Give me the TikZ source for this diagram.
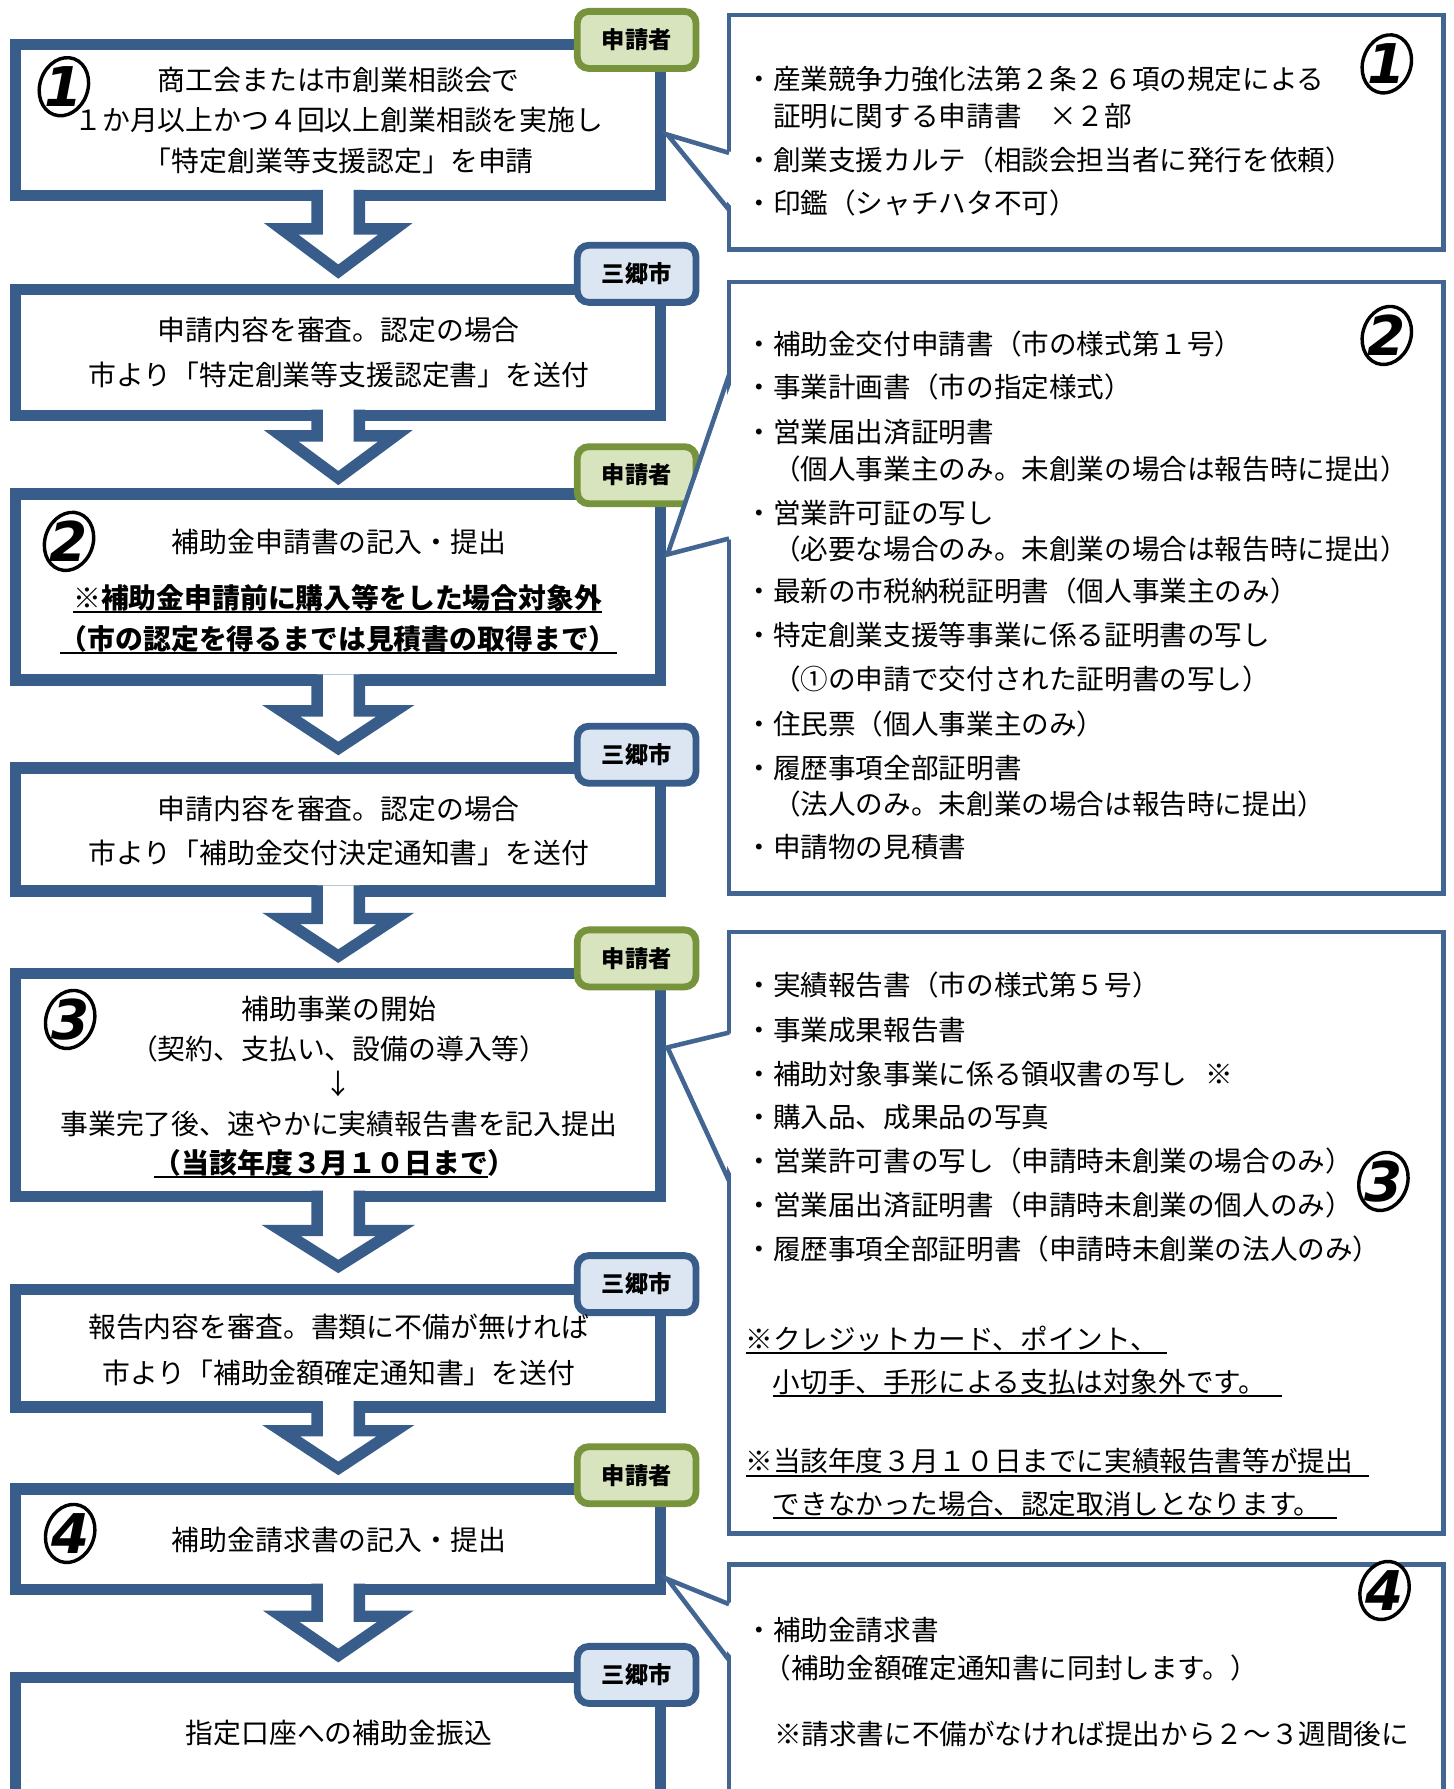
\documentclass[tikz,border=0pt]{standalone}
\usepackage{fontspec}
\setmainfont{Noto Sans CJK JP}
\newfontfamily\numfont{DejaVu Sans}
\usetikzlibrary{shapes.geometric,fit}
\definecolor{bbord}{RGB}{56,93,138}
\definecolor{rbord}{RGB}{66,101,146}
\definecolor{gfill}{RGB}{215,228,189}
\definecolor{gbord}{RGB}{119,147,60}
\definecolor{bfill}{RGB}{220,230,242}
\newcommand\ulx[1]{\setbox0\hbox{#1}\rlap{\rule[-0.17em]{\wd0}{0.9pt}}\box0}
\newcommand\blkarrow[3]{%
  \fill[white] ([xshift=-9.125pt]#1.south) ++(0,-5) -- ++(0,#2) -- ++(-31.5,0) -- ++(50,#3) -- ++(50,-#3) -- ++(-31.5,0) -- ++(0,-#2) -- cycle;
  \draw[arrline] ([xshift=-9.125pt]#1.south) ++(0,-5) -- ++(0,#2) -- ++(-31.5,0) -- ++(50,#3) -- ++(50,-#3) -- ++(-31.5,0) -- ++(0,-#2);
}
\tikzset{
  mbox/.style={draw=bbord, line width=5pt, fill=white, inner sep=0pt, outer sep=0pt},
  arrline/.style={draw=bbord, line width=5pt, line join=miter},
  rbox/.style={draw=rbord, line width=2pt, fill=white, inner sep=0pt, outer sep=0pt},
  rline/.style={draw=rbord, line width=2pt, line join=miter},
  tagg/.style={draw=gbord, fill=gfill, line width=3pt, rounded corners=5pt, inner sep=0pt, outer sep=0pt,
    minimum width=52pt, minimum height=25pt, text height=8.9pt, text depth=1.2pt,
    font=\fontsize{10.2}{12}\selectfont\bfseries},
  tagb/.style={tagg, draw=bbord, fill=bfill},
  ltxt/.style={inner sep=0pt, text height=10.7pt, text depth=1.5pt, font=\fontsize{12.2}{14}\selectfont},
  rtxt/.style={inner sep=0pt, text height=10.6pt, text depth=1.5pt, anchor=west, font=\fontsize{12.1}{14}\selectfont},
  ringn/.style={draw=black, line width=1.5pt, ellipse, fill=white, minimum width=21pt, minimum height=26pt, inner sep=0pt},
  digit/.style={font=\numfont\fontsize{24}{24}\selectfont\bfseries\itshape, inner sep=0pt},
}
\begin{document}
\begin{tikzpicture}[x=0.5pt,y=-0.5pt]
\useasboundingbox (0,0) rectangle (1274,1568);
\fill[white] (0,0) rectangle (1274,1568);

% main boxes
\node[mbox, fit={(13.5,39) (579,171.5)}] (A) {};
\node[mbox, fit={(13.5,253.5) (579,364)}] (B) {};
\node[mbox, fit={(13.5,433) (579,596)}] (C) {};
\node[mbox, fit={(13.5,673) (579,781)}] (D) {};
\node[mbox, fit={(13.5,853) (579,1048.5)}] (E) {};
\node[mbox, fit={(13.5,1130) (579,1233)}] (F) {};
\node[mbox, fit={(13.5,1305) (579,1393)}] (G) {};
\node[mbox, fit={(13.5,1470) (579,1600)}] (H) {};

% block arrows
\blkarrow{A}{34.1}{37.4}
\blkarrow{B}{23}{37}
\blkarrow{C}{32}{33}
\blkarrow{D}{29}{33}
\blkarrow{E}{35}{31.5}
\blkarrow{F}{26}{33}
\blkarrow{G}{28.6}{34.4}

% tags
\node[tagg] (tA) at (558,35) {申請者};
\node[tagb] (tB) at (558,240) {三郷市};
\node[tagg] (tC) at (558,416.5) {申請者};
\node[tagb] (tD) at (558,661.5) {三郷市};
\node[tagg] (tE) at (558,840) {申請者};
\node[tagb] (tF) at (558,1125.5) {三郷市};
\node[tagg] (tG) at (558,1293) {申請者};
\node[tagb] (tH) at (558,1468) {三郷市};

% callout boxes
\node[rbox, fit={(639,13) (1265,218.5)}] (R1) {};
\node[rbox, fit={(639,247) (1265,783)}] (R2) {};
\node[rbox, fit={(639,817) (1265,1344)}] (R3) {};
\node[rbox, fit={(639,1371) (1265,1600)}] (R4) {};

\coordinate (R1p) at (639,134); \coordinate (R1q) at (639,184); \coordinate (R1t) at (585,118);
\coordinate (R2p) at (639,328.5); \coordinate (R2q) at (639,472); \coordinate (R2t) at (585,486);
\coordinate (R3p) at (639,905); \coordinate (R3q) at (639,1035); \coordinate (R3t) at (585,918);
\coordinate (R4p) at (639,1406); \coordinate (R4q) at (639,1455); \coordinate (R4t) at (585,1384);
\foreach \r in {R1,R2,R3,R4}{
  \fill[white] ([xshift=2.5pt]\r p) -- (\r t) -- ([xshift=2.5pt]\r q) -- cycle;
  \draw[rline] (\r p) -- (\r t) -- (\r q);
}

% left texts
\node[ltxt] (a1) at (297,70.5) {商工会または市創業相談会で};
\node[ltxt] (a2) at (297,105.5) {１か月以上かつ４回以上創業相談を実施し};
\node[ltxt] (a3) at (297,141.5) {「特定創業等支援認定」を申請};
\node[ltxt] (b1) at (297,289) {申請内容を審査。認定の場合};
\node[ltxt] (b2) at (297,328.5) {市より「特定創業等支援認定書」を送付};
\node[ltxt] (c1) at (297,475) {補助金申請書の記入・提出};
\node[ltxt] (c2) at (296,524) {\bfseries\ulx{※補助金申請前に購入等をした場合対象外}};
\node[ltxt] (c3) at (296.5,560) {\bfseries\ulx{（市の認定を得るまでは見積書の取得まで）}};
\node[ltxt] (d1) at (297,709) {申請内容を審査。認定の場合};
\node[ltxt] (d2) at (297,748) {市より「補助金交付決定通知書」を送付};
\node[ltxt] (e1) at (297,884) {補助事業の開始};
\node[ltxt] (e2) at (297,919) {（契約、支払い、設備の導入等）};
\node[ltxt] (e3) at (297,950) {↓};
\node[ltxt] (e4) at (297,985.5) {事業完了後、速やかに実績報告書を記入提出};
\node[ltxt] (e5) at (293.5,1019) {\bfseries\ulx{（当該年度３月１０日まで}）};
\node[ltxt] (f1) at (297,1163) {報告内容を審査。書類に不備が無ければ};
\node[ltxt] (f2) at (297,1203) {市より「補助金額確定通知書」を送付};
\node[ltxt] (g1) at (297,1349.5) {補助金請求書の記入・提出};
\node[ltxt] (h1) at (297,1519) {指定口座への補助金振込};

% right texts R1
\node[rtxt] (p1a) at (653,69.5) {・産業競争力強化法第２条２６項の規定による};
\node[rtxt] (p1b) at (653,101.5) {　証明に関する申請書　×２部};
\node[rtxt] (p1c) at (653,140) {・創業支援カルテ（相談会担当者に発行を依頼）};
\node[rtxt] (p1d) at (653,178) {・印鑑（シャチハタ不可）};
% R2
\node[rtxt] (p2a) at (653,302) {・補助金交付申請書（市の様式第１号）};
\node[rtxt] (p2b) at (653,339.5) {・事業計画書（市の指定様式）};
\node[rtxt] (p2c) at (653,378.5) {・営業届出済証明書};
\node[rtxt] (p2d) at (653,411) {　（個人事業主のみ。未創業の場合は報告時に提出）};
\node[rtxt] (p2e) at (653,449.5) {・営業許可証の写し};
\node[rtxt] (p2f) at (653,481) {　（必要な場合のみ。未創業の場合は報告時に提出）};
\node[rtxt] (p2g) at (653,518.5) {・最新の市税納税証明書（個人事業主のみ）};
\node[rtxt] (p2h) at (653,557) {・特定創業支援等事業に係る証明書の写し};
\node[rtxt] (p2i) at (653,595.5) {　（①の申請で交付された証明書の写し）};
\node[rtxt] (p2j) at (653,634.5) {・住民票（個人事業主のみ）};
\node[rtxt] (p2k) at (653,673) {・履歴事項全部証明書};
\node[rtxt] (p2l) at (653,704.5) {　（法人のみ。未創業の場合は報告時に提出）};
\node[rtxt] (p2m) at (653,742.5) {・申請物の見積書};
% R3
\node[rtxt] (p3a) at (653,863.5) {・実績報告書（市の様式第５号）};
\node[rtxt] (p3b) at (653,903) {・事業成果報告書};
\node[rtxt] (p3c) at (653,941) {・補助対象事業に係る領収書の写し\hspace{8pt}※};
\node[rtxt] (p3d) at (653,979.5) {・購入品、成果品の写真};
\node[rtxt] (p3e) at (653,1017.5) {・営業許可書の写し（申請時未創業の場合のみ）};
\node[rtxt] (p3f) at (653,1056) {・営業届出済証明書（申請時未創業の個人のみ）};
\node[rtxt] (p3g) at (653,1094.5) {・履歴事項全部証明書（申請時未創業の法人のみ）};
\node[rtxt] (p3h) at (653,1173.5) {\ulx{※クレジットカード、ポイント、\hspace{4pt}}};
\node[rtxt] (p3i) at (677,1211.5) {\ulx{小切手、手形による支払は対象外です。\hspace{7pt}}};
\node[rtxt] (p3j) at (653,1281) {\ulx{※当該年度３月１０日までに実績報告書等が提出\hspace{7pt}}};
\node[rtxt] (p3k) at (677,1318.5) {\ulx{できなかった場合、認定取消しとなります。\hspace{7pt}}};
% R4
\node[rtxt] (p4a) at (653,1429) {・補助金請求書};
\node[rtxt] (p4b) at (669,1462) {（補助金額確定通知書に同封します。）};
\node[rtxt] (p4c) at (678,1520) {※請求書に不備がなければ提出から２～３週間後に};

% number marks
\node[ringn, rotate=-20] (oA) at (56,76) {};
\node[digit] (dA) at (oA.center) {1};
\node[ringn, rotate=-20] (oC) at (60.5,474.5) {};
\node[digit] (dC) at (oC.center) {2};
\node[ringn, rotate=-20] (oE) at (61.5,893.5) {};
\node[digit] (dE) at (oE.center) {3};
\node[ringn, rotate=-20] (oG) at (61.5,1344) {};
\node[digit] (dG) at (oG.center) {4};
\node[ringn, rotate=-20] (o1) at (1215.5,56) {};
\node[digit] (d1) at (o1.center) {1};
\node[ringn, rotate=-20] (o2) at (1215.5,294) {};
\node[digit] (d2) at (o2.center) {2};
\node[ringn, rotate=-20] (o3) at (1212.5,1035.5) {};
\node[digit] (d3) at (o3.center) {3};
\node[ringn, rotate=-20] (o4) at (1213.5,1394) {};
\node[digit] (d4) at (o4.center) {4};
\end{tikzpicture}
\end{document}
